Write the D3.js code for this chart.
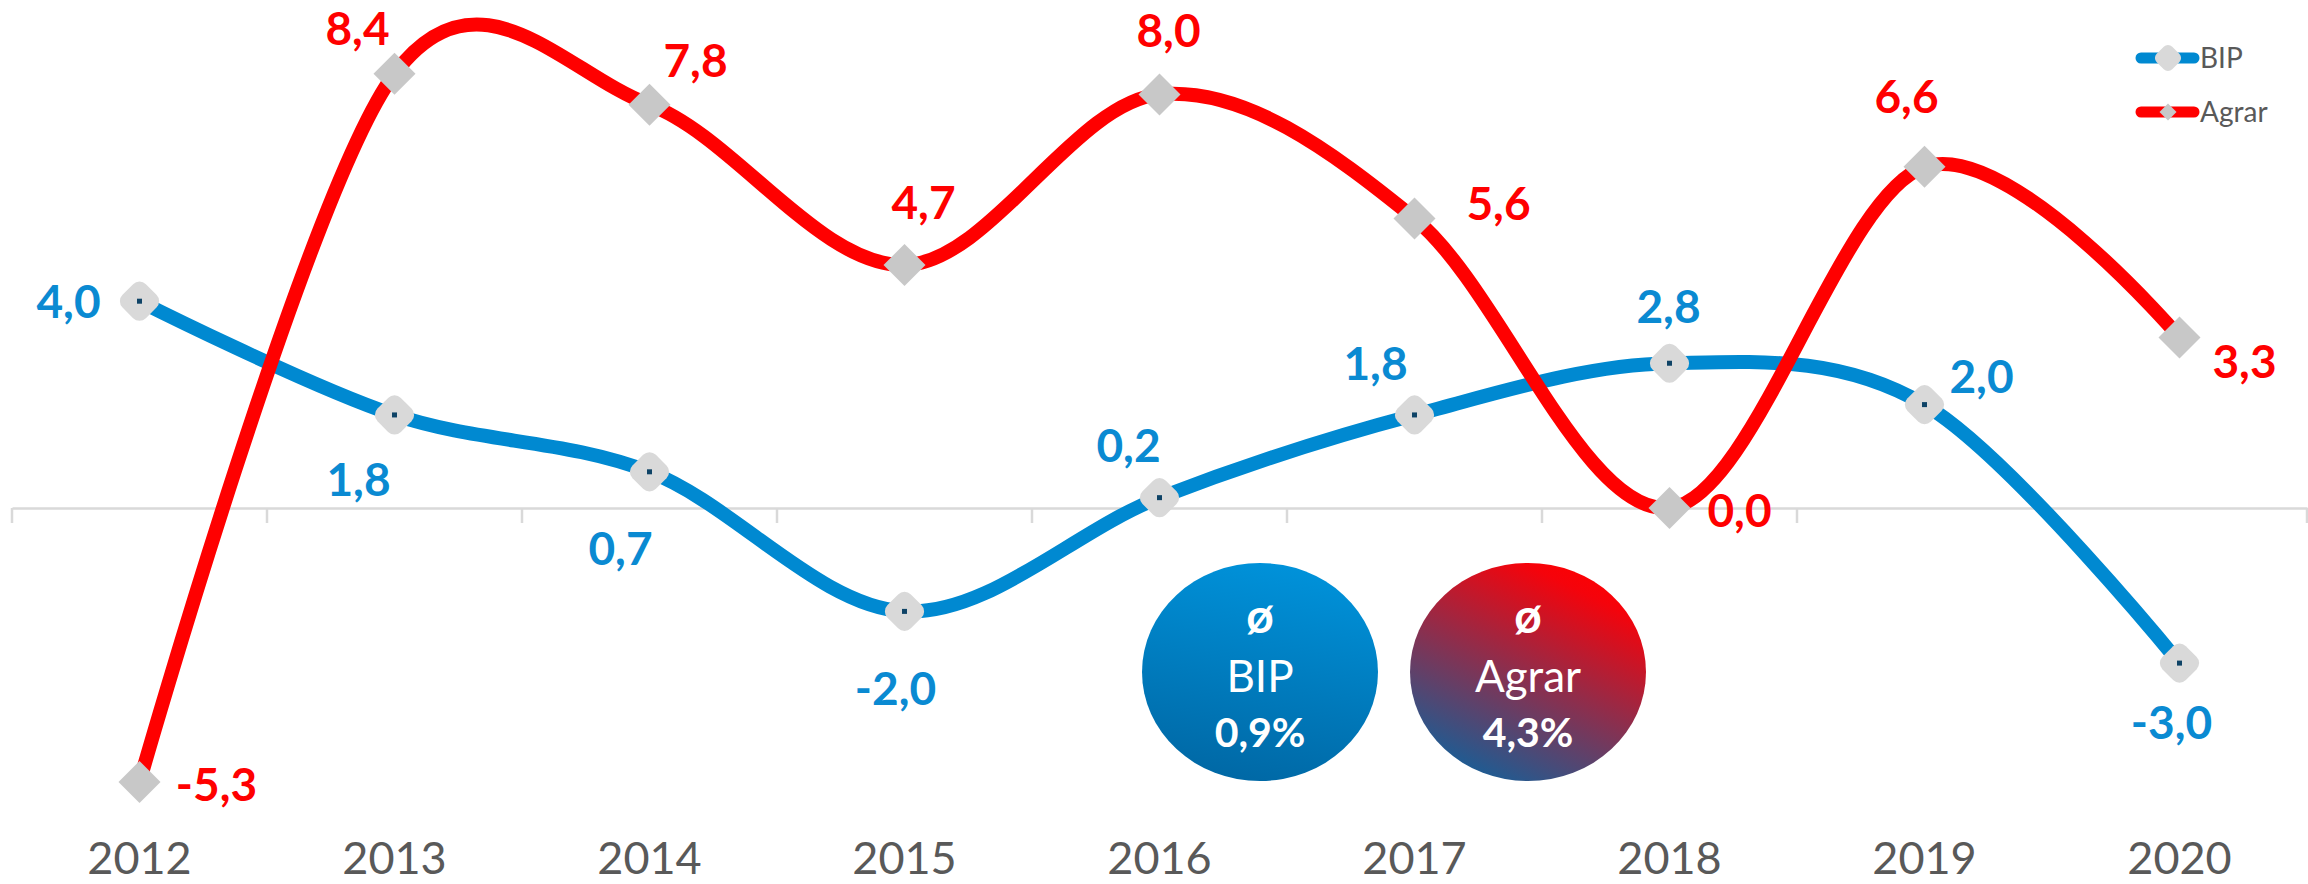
<!DOCTYPE html>
<html>
<head>
<meta charset="utf-8">
<script src="https://cdn.jsdelivr.net/npm/d3@7"></script>
<style>
  html, body { margin: 0; padding: 0; background: #ffffff; }
  svg { display: block; font-family: 'Lato', 'Open Sans', sans-serif; }
</style>
</head>
<body>
<svg id="chart" width="2308" height="884"></svg>
<script>
// ---------- data ----------
const years = ['2012', '2013', '2014', '2015', '2016', '2017', '2018', '2019', '2020'];
const bipValues = [4.0, 1.8, 0.7, -2.0, 0.2, 1.8, 2.8, 2.0, -3.0];
const agrarValues = [-5.3, 8.4, 7.8, 4.7, 8.0, 5.6, 0.0, 6.6, 3.3];
const seriesNames = ['BIP', 'Agrar'];
const averageValues = [0.9, 4.3];

// ---------- layout (label offsets relative to marker, px) ----------
const bipLabelOffsets = [[-71, 0], [-36, 64], [-29, 77], [-9, 77], [-31, -52], [-39, -52], [-1, -57], [57, -28], [-8, 59]];
const agrarLabelOffsets = [[77, 2], [-37, -45], [46, -44], [19, -63], [9, -64], [84, -15], [70, 2], [-18, -70], [65, 24]];

const W = 2308, H = 884;
const svg = d3.select('#chart');
const BLUE = '#0089D1', RED = '#FF0000', GREY_TEXT = '#595959';

const fmtLocale = d3.formatLocale({ decimal: ',', thousands: '.', grouping: [3], currency: ['', '€'], minus: '-' });
const fmt = fmtLocale.format('.1f');

const x = d3.scaleBand().domain(years).range([12, 2307]).padding(0);
const y = d3.scaleLinear().domain([-6, 9]).range([818.2, 42.7]);
const cx = d => x(d) + x.bandwidth() / 2;

// ---------- defs (gradients) ----------
const defs = svg.append('defs');
const gB = defs.append('linearGradient').attr('id', 'gradBip')
  .attr('x1', 0.6).attr('y1', 0).attr('x2', 0.4).attr('y2', 1);
gB.append('stop').attr('offset', 0).attr('stop-color', '#0092DA');
gB.append('stop').attr('offset', 1).attr('stop-color', '#0068A5');
const gA = defs.append('linearGradient').attr('id', 'gradAgrar')
  .attr('x1', 0.85).attr('y1', 0.05).attr('x2', 0.35).attr('y2', 1);
gA.append('stop').attr('offset', 0).attr('stop-color', '#FF0000');
gA.append('stop').attr('offset', 0.12).attr('stop-color', '#F5030B');
gA.append('stop').attr('offset', 1).attr('stop-color', '#1E5C93');

// ---------- x axis ----------
const axisY = y(0);
const axis = d3.axisBottom(x).tickSize(0).tickSizeOuter(0).tickPadding(334);
const gAxis = svg.append('g').attr('transform', `translate(0,${axisY})`).call(axis);
gAxis.select('.domain').attr('stroke', '#D9D9D9').attr('stroke-width', 2.5);
gAxis.selectAll('.tick text')
  .attr('fill', GREY_TEXT).attr('font-size', 45).attr('font-family', "'Lato', sans-serif");
// boundary tick marks
const boundaries = years.map(d => x(d)).concat([x(years[years.length - 1]) + x.bandwidth()]);
gAxis.selectAll('line.bound').data(boundaries).enter().append('line')
  .attr('class', 'bound')
  .attr('x1', d => d).attr('x2', d => d).attr('y1', 0).attr('y2', 15)
  .attr('stroke', '#D9D9D9').attr('stroke-width', 2.5);

// ---------- average bubbles ----------
const bubbles = [
  { name: seriesNames[0], value: averageValues[0], cx: 1260, fill: 'url(#gradBip)' },
  { name: seriesNames[1], value: averageValues[1], cx: 1528, fill: 'url(#gradAgrar)' }
];
const gb = svg.selectAll('g.bubble').data(bubbles).enter().append('g').attr('class', 'bubble')
  .attr('transform', d => `translate(${d.cx},672)`);
gb.append('ellipse').attr('rx', 118).attr('ry', 109).attr('fill', d => d.fill);
gb.append('text').attr('text-anchor', 'middle').attr('y', -39).attr('fill', '#fff')
  .attr('font-size', 48).attr('font-weight', 'bold').text('ø');
gb.append('text').attr('text-anchor', 'middle').attr('y', 20).attr('fill', '#fff')
  .attr('font-size', 44).text(d => d.name);
gb.append('text').attr('text-anchor', 'middle').attr('y', 75).attr('fill', '#fff')
  .attr('font-size', 41).attr('font-weight', 'bold').text(d => fmt(d.value) + '%');

// ---------- lines ----------
const line = d3.line().x((d, i) => cx(years[i])).y(d => y(d)).curve(d3.curveCardinal.tension(0));

function bipMarker(sel, size, r) {
  sel.append('rect').attr('x', -size / 2).attr('y', -size / 2)
    .attr('width', size).attr('height', size).attr('rx', r).attr('ry', r)
    .attr('transform', 'rotate(45)').attr('fill', '#D9D9D9');
}
function agrarMarker(sel, half) {
  sel.append('path').attr('d', `M0,${-half}L${half},0L0,${half}L${-half},0Z`).attr('fill', '#C8C8C8');
}

// BIP series
svg.append('path').datum(bipValues).attr('d', line)
  .attr('fill', 'none').attr('stroke', BLUE).attr('stroke-width', 14).attr('stroke-linecap', 'round');
const bm = svg.selectAll('g.bipm').data(bipValues).enter().append('g').attr('class', 'bipm')
  .attr('transform', (d, i) => `translate(${cx(years[i])},${y(d)})`);
bm.call(bipMarker, 33, 9);
bm.append('rect').attr('x', -2.5).attr('y', -2.5).attr('width', 5).attr('height', 5).attr('fill', '#0E4366');

// Agrar series
svg.append('path').datum(agrarValues).attr('d', line)
  .attr('fill', 'none').attr('stroke', RED).attr('stroke-width', 14).attr('stroke-linecap', 'round');
const am = svg.selectAll('g.agm').data(agrarValues).enter().append('g').attr('class', 'agm')
  .attr('transform', (d, i) => `translate(${cx(years[i])},${y(d)})`);
am.call(agrarMarker, 21);

// ---------- data labels ----------
function labels(values, offsets, color, cls) {
  svg.selectAll('text.' + cls).data(values).enter().append('text').attr('class', cls)
    .attr('x', (d, i) => cx(years[i]) + offsets[i][0])
    .attr('y', (d, i) => y(d) + offsets[i][1])
    .attr('dy', '0.36em')
    .attr('text-anchor', 'middle')
    .attr('font-size', 46).attr('font-weight', 'bold').attr('fill', color)
    .text(d => fmt(d));
}
labels(bipValues, bipLabelOffsets, '#0A8AD2', 'lb');
labels(agrarValues, agrarLabelOffsets, RED, 'la');

// ---------- legend ----------
const legend = svg.append('g').attr('class', 'legend');
const legItems = [
  { name: seriesNames[0], color: BLUE, y: 58 },
  { name: seriesNames[1], color: RED, y: 112 }
];
const li = legend.selectAll('g').data(legItems).enter().append('g')
  .attr('transform', d => `translate(0,${d.y})`);
li.append('line').attr('x1', 2141).attr('x2', 2194).attr('y1', 0).attr('y2', 0)
  .attr('stroke', d => d.color).attr('stroke-width', 11).attr('stroke-linecap', 'round');
li.append('text').attr('x', 2200).attr('y', 0).attr('dy', '0.36em')
  .attr('font-size', 28).attr('fill', GREY_TEXT).text(d => d.name);
li.filter((d, i) => i === 0).append('g').attr('transform', 'translate(2168,0)').call(bipMarker, 22, 6);
li.filter((d, i) => i === 1).append('g').attr('transform', 'translate(2168,0)').call(agrarMarker, 8.5);
</script>
</body>
</html>
